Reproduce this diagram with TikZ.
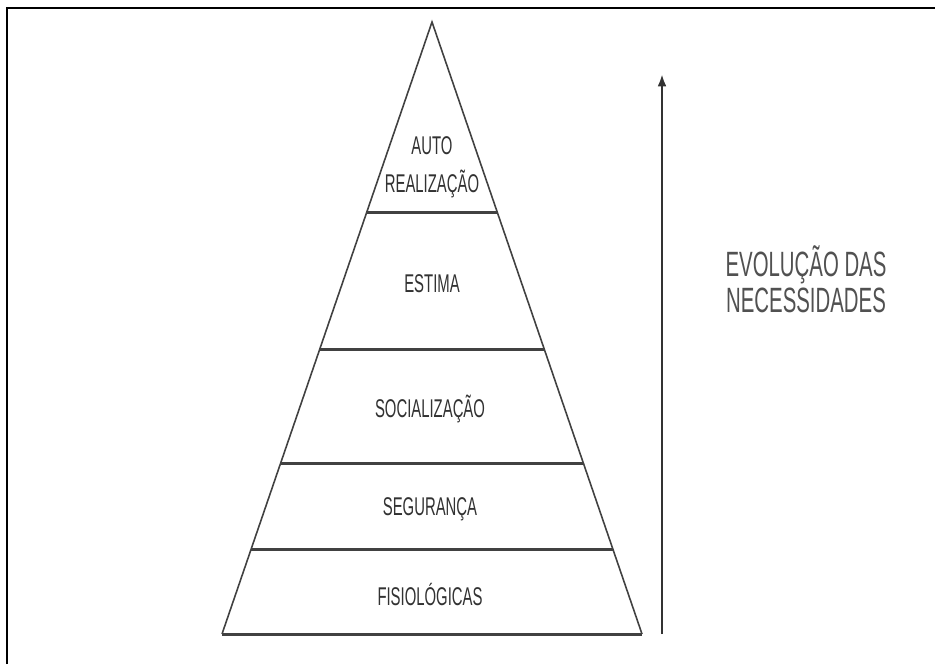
\documentclass[tikz,border=0pt]{standalone}
\usepackage{fontspec}
\newfontfamily\pyrfont[FakeStretch=0.58]{Liberation Sans}
\definecolor{inkgray}{RGB}{50, 50, 50}
\definecolor{linegray}{RGB}{65, 65, 65}
\usetikzlibrary{arrows.meta, positioning, calc}

\begin{document}
\begin{tikzpicture}[
  x=0.02cm, y=-0.02cm,
  side/.style={linegray, line width=0.9pt},
  layer/.style={linegray, line width=1.7pt},
  label/.style={inkgray, font=\pyrfont\fontsize{14.6}{15.5}\selectfont, inner sep=0pt, align=center},
  note/.style={inkgray!85, font=\pyrfont\fontsize{20}{20.5}\selectfont, inner sep=0pt, align=center},
  evol/.style={-{Latex[length=7pt, width=5pt]}, black!80, line width=1.3pt}
]
  \useasboundingbox (0,0) rectangle (935,664);
  \fill[white] (0,0) rectangle (935,664);

  % Frame
  \draw[black, line width=1.2pt] (7,664) -- (7,8) -- (935,8);

  % Pyramid corners
  \coordinate (apex) at (432, 22);
  \coordinate (bl) at (222, 634);
  \coordinate (br) at (642, 634);

  % Level boundaries
  \coordinate (l1) at ($(apex)!0.3105!(bl)$);
  \coordinate (r1) at ($(apex)!0.3105!(br)$);
  \coordinate (l2) at ($(apex)!0.5359!(bl)$);
  \coordinate (r2) at ($(apex)!0.5359!(br)$);
  \coordinate (l3) at ($(apex)!0.7206!(bl)$);
  \coordinate (r3) at ($(apex)!0.7206!(br)$);
  \coordinate (l4) at ($(apex)!0.8627!(bl)$);
  \coordinate (r4) at ($(apex)!0.8627!(br)$);

  \draw[side] (bl) -- (apex) -- (br);
  \draw[layer] (bl) -- (br);
  \draw[layer] (l1) -- (r1);
  \draw[layer] (l2) -- (r2);
  \draw[layer] (l3) -- (r3);
  \draw[layer] (l4) -- (r4);

  % Labels
  \node[label] (auto) at (432, 167) {AUTO\\[6pt]REALIZAÇÃO};
  \node[label] (estima) at (432, 284) {ESTIMA};
  \node[label] (social) at (430, 409) {SOCIALIZAÇÃO};
  \node[label] (seguranca) at (430, 509) {SEGURANÇA};
  \node[label] (fisio) at (430, 594) {FISIOLÓGICAS};

  % Right side annotation
  \coordinate (evolbot) at (662, 634);
  \coordinate (evoltop) at (662, 74);
  \draw[evol] (evolbot) -- (evoltop);
  \node[note] (evolucao) at (806, 279) {EVOLUÇÃO DAS\\NECESSIDADES};
\end{tikzpicture}
\end{document}
